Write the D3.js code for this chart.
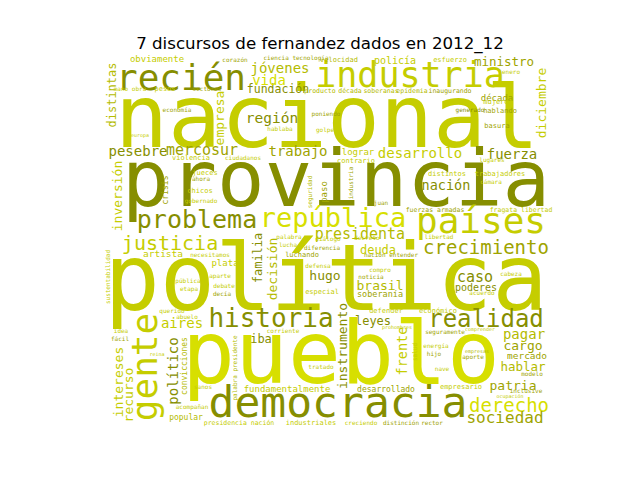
<!DOCTYPE html>
<html><head><meta charset="utf-8">
<script src="https://cdn.jsdelivr.net/npm/d3@7"></script>
<style>body{margin:0;background:#fff}svg{display:block}</style>
</head><body>
<script>
const title = "7 discursos de fernandez dados en 2012_12";

const words = [
"nacional","provincia","política","pueblo","democracia","recién","industria","países","república","problema",
"justicia","crecimiento","historia","realidad","derecho","sociedad","presidenta","desarrollo","fuerza","trabajo",
"mercosur","pesebre","región","fundación","jóvenes","vida","ministro","policía","obviamente","década",
"nación","deuda","hugo","brasil","soberanía","caso","poderes","aires","iba","leyes",
"pagar","cargo","mercado","hablar","patria","lograr","plata","artista","desarrollado","fundamentalmente",
"popular","presidencia nación","industriales","creciendo","distinción","rector",
"distintas","diciembre","empresa","inversión","familia","decisión","gente","político","intereses","recurso",
"instrumento","frente","paso","convicciones","palabra presidente","sustentabilidad","industria","seguridad","crisis","salud",
"corazón","ciencia tecnología","velocidad","esfuerzo","enero","mano obra","pesos","sectores","producto","década",
"soberanas","epidemia","inaugurando","mujeres","economía","poniendo","generado","hablando","basura","hablaba",
"golpe","europa","violencia","ciudadanos","contrario","jueces","ahora","chicos","distintos","trabajadores",
"lugares","cámara","gobernado","fuerzas armadas","fragata libertad","juan","palabra","lucha","diálogo","diferencia",
"decreto","libertad","luchando","nación entender","defensa","compro","noticia","especial","cabeza","acuerdo",
"pública","etapa","aparte","debate","decía","necesitamos","querido","abuelo","idea","fácil",
"reina","corriente","defender","económico","prohombres","seguramente","comprender","energía","hijo","empresas",
"aporte","nave","modelo","empresario","inclusive","ocupación","sanos","acompañan","tratado"
];

const freq = [
0.88,0.79,0.92,0.88,0.43,0.36,0.35,0.36,0.27,0.25,
0.20,0.19,0.26,0.24,0.19,0.16,0.15,0.14,0.14,0.14,
0.15,0.14,0.145,0.115,0.14,0.14,0.125,0.10,0.09,0.09,
0.135,0.12,0.13,0.13,0.085,0.15,0.10,0.14,0.12,0.12,
0.14,0.13,0.095,0.125,0.13,0.09,0.09,0.095,0.08,0.09,
0.08,0.065,0.07,0.06,0.06,0.06,
0.12,0.13,0.13,0.13,0.12,0.13,0.36,0.14,0.13,0.13,
0.13,0.135,0.09,0.08,0.06,0.06,0.06,0.06,0.08,0.06,
0.06,0.06,0.07,0.07,0.06,0.06,0.07,0.06,0.065,0.065,
0.065,0.065,0.065,0.07,0.06,0.06,0.06,0.07,0.07,0.06,
0.06,0.05,0.07,0.06,0.07,0.07,0.06,0.07,0.07,0.07,
0.06,0.06,0.06,0.065,0.065,0.06,0.06,0.06,0.06,0.06,
0.06,0.06,0.07,0.06,0.06,0.06,0.06,0.07,0.06,0.06,
0.06,0.06,0.06,0.06,0.06,0.06,0.06,0.06,0.06,0.06,
0.05,0.06,0.07,0.07,0.05,0.06,0.05,0.06,0.06,0.05,
0.06,0.06,0.06,0.07,0.06,0.05,0.06,0.06,0.06
];

// placement in cloud-image units: [x, y, rotation]
const layout = [
[227,89,0],[236,148,0],[226,252,0],[241,325,0],[238,359,0],[81,32,0],[310,29,0],[381,175,0],[233,169,0],[97,170,0],
[70,192,0],[386,196,0],[171,269,0],[386,269,0],[409,354,0],[405,365,0],[260,181,0],[320,100,0],[412,101,0],[198,98,0],
[102,97,0],[38,98,0],[172,65,0],[178,35,0],[180,15,0],[169,27,0],[404,8,0],[295,6,0],[57,4,0],[397,43,0],
[346,132,0],[278,196,0],[225,222,0],[280,232,0],[280,239,0],[375,224,0],[376,233,0],[82,270,0],[161,285,0],[273,267,0],
[424,281,0],[423,292,0],[427,301,0],[423,313,0],[413,332,0],[258,97,0],[125,208,0],[63,199,0],[286,334,0],[187,334,0],
[86,362,0],[139,367,0],[211,367,0],[261,367,0],[301,367,0],[332,367,0],
[16,37,-90],[446,45,-90],[124,60,-90],[22,138,-90],[162,200,-90],[177,211,-90],[57,309,-90],[78,313,-90],[23,324,-90],[33,337,-90],
[247,288,-90],[307,293,-90],[227,134,-90],[87,308,-90],[137,310,-90],[10,219,-90],[253,125,-90],[212,134,-90],[68,132,-90],[317,294,-90],
[135,4,0],[196,2,0],[239,4,0],[350,4,0],[411,16,0],[30,33,0],[65,33,0],[107,33,0],[220,35,0],[250,35,0],
[281,35,0],[312,35,0],[350,35,0],[398,46,0],[77,54,0],[226,58,0],[370,54,0],[400,55,0],[397,70,0],[180,73,0],
[225,74,0],[40,79,0],[91,102,0],[143,102,0],[256,105,0],[105,117,0],[101,123,0],[100,135,0],[347,118,0],[400,118,0],
[392,104,0],[391,126,0],[101,145,0],[335,154,0],[421,154,0],[281,147,0],[189,181,0],[188,189,0],[228,183,0],[222,192,0],
[267,182,0],[339,181,0],[202,199,0],[291,199,0],[218,210,0],[280,214,0],[271,221,0],[222,236,0],[411,218,0],[382,237,0],
[88,225,0],[89,233,0],[120,220,0],[124,230,0],[122,238,0],[110,199,0],[72,255,0],[87,261,0],[21,275,0],[20,283,0],
[57,298,0],[183,275,0],[286,255,0],[338,255,0],[297,271,0],[345,276,0],[380,273,0],[336,290,0],[334,298,0],[377,295,0],
[373,301,0],[342,313,0],[432,318,0],[361,331,0],[426,335,0],[410,340,0],[103,331,0],[92,351,0],[221,311,0]
];

const tone = [
3,0,3,4,0,0,3,3,4,0,
3,1,0,0,4,1,2,3,0,1,
1,0,0,0,2,4,1,3,3,1,
0,3,0,2,1,0,0,3,0,0,
2,1,1,2,1,3,3,3,1,3,
2,3,3,3,1,1,
2,3,3,3,0,2,3,0,3,3,
0,3,1,2,2,3,1,2,1,3,
1,1,2,3,3,3,3,1,2,2,
2,2,1,3,1,1,0,1,1,3,
3,3,3,3,3,3,1,3,3,3,
3,3,3,1,3,1,3,3,3,1,
3,3,1,1,3,3,1,3,3,3,
3,3,3,3,1,3,3,3,3,1,
3,3,3,3,3,1,3,3,1,2,
1,3,1,3,1,3,3,3,3
];

const palette = ["#868e00","#9ea400","#b4bb00","#c5cd00","#d7df00"];

const W = 640, H = 480;
const svg = d3.select("body").append("svg").attr("width", W).attr("height", H);

svg.append("text")
  .attr("x", 320).attr("y", 49)
  .attr("text-anchor", "middle")
  .style("font-family", "DejaVu Sans")
  .style("font-size", "16.67px")
  .text(title);

// cloud image extent inside the axes
const x = d3.scaleLinear().domain([0, 455]).range([100, 555]);
const y = d3.scaleLinear().domain([0, 370]).range([58, 428]);
const size = d3.scaleLinear().domain([0, 1]).range([0, 100]);

const data = words.map((w, i) => ({w, f: freq[i], p: layout[i], c: palette[tone[i]]}));

svg.append("g").selectAll("text").data(data).join("text")
  .attr("transform", d => `translate(${x(d.p[0])},${y(d.p[1])}) rotate(${d.p[2]})`)
  .attr("text-anchor", "middle")
  .style("font-family", "'DejaVu Sans Mono', monospace")
  .style("font-size", d => size(d.f) + "px")
  .style("fill", d => d.c)
  .text(d => d.w);
</script>
</body></html>
